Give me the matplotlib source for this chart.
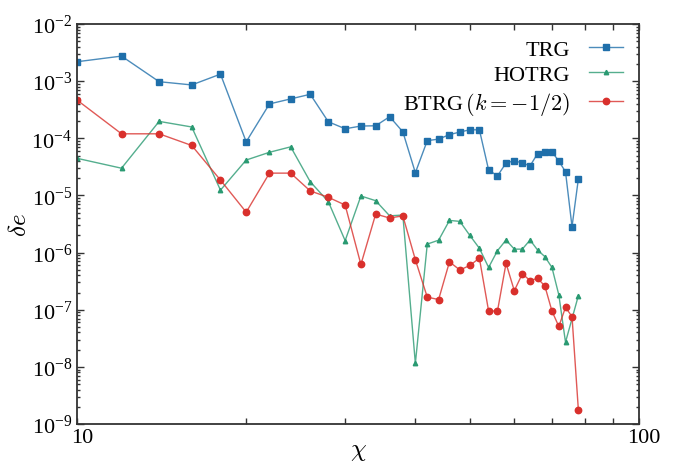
import matplotlib
matplotlib.use("Agg")
import matplotlib.pyplot as plt
import numpy as np
from matplotlib.ticker import LogLocator, NullFormatter, FuncFormatter, FixedLocator
from matplotlib.transforms import ScaledTranslation

plt.rcParams["font.family"] = ["Liberation Serif", "DejaVu Serif"]
plt.rcParams["mathtext.fontset"] = "cm"

# bond dimension chi
chi = [10, 12, 14, 16, 18, 20, 22, 24, 26, 28, 30, 32, 34, 36, 38, 40, 42, 44,
       46, 48, 50, 52, 54, 56, 58, 60, 62, 64, 66, 68, 70, 72, 74, 76, 78]
chi_hotrg = [c for c in chi if c != 76]

trg = [2.19e-3, 2.75e-3, 9.8e-4, 8.6e-4, 1.33e-3, 8.7e-5, 4.0e-4, 4.9e-4,
       5.9e-4, 1.95e-4, 1.47e-4, 1.64e-4, 1.66e-4, 2.39e-4, 1.30e-4, 2.5e-5,
       9.1e-5, 9.7e-5, 1.16e-4, 1.29e-4, 1.41e-4, 1.41e-4, 2.8e-5, 2.2e-5,
       3.7e-5, 4.05e-5, 3.7e-5, 3.3e-5, 5.4e-5, 5.8e-5, 5.8e-5, 4.0e-5,
       2.6e-5, 2.84e-6, 1.94e-5]
hotrg = [4.47e-5, 3.0e-5, 1.98e-4, 1.58e-4, 1.24e-5, 4.17e-5, 5.7e-5, 7.1e-5,
         1.74e-5, 7.8e-6, 1.62e-6, 9.8e-6, 8.1e-6, 4.4e-6, 4.55e-6, 1.15e-8,
         1.41e-6, 1.65e-6, 3.66e-6, 3.52e-6, 2.0e-6, 1.19e-6, 5.5e-7, 1.08e-6,
         1.66e-6, 1.15e-6, 1.15e-6, 1.66e-6, 1.11e-6, 8.5e-7, 5.5e-7, 1.82e-7,
         2.7e-8, 1.76e-7]
btrg = [4.68e-4, 1.2e-4, 1.2e-4, 7.5e-5, 1.86e-5, 5.1e-6, 2.46e-5, 2.46e-5,
        1.2e-5, 9.3e-6, 6.8e-6, 6.2e-7, 4.73e-6, 4.03e-6, 4.4e-6, 7.5e-7,
        1.66e-7, 1.51e-7, 6.9e-7, 4.96e-7, 5.96e-7, 8.0e-7, 9.5e-8, 9.5e-8,
        6.5e-7, 2.15e-7, 4.26e-7, 3.24e-7, 3.55e-7, 2.6e-7, 9.5e-8, 5.1e-8,
        1.1e-7, 7.6e-8, 1.78e-9]

x_ticks = [10, 100]

blue = "#1f6faa"
green = "#2a9a72"
red = "#d9302c"

fig = plt.figure(figsize=(6.84, 4.64), dpi=100)
ax = fig.add_axes([0.1126, 0.084, 0.8216, 0.862])

ax.plot(chi, trg, color=blue, lw=1.0, marker="s", ms=4.6,
        mfc=blue, mec=blue, label="TRG")
ax.plot(chi_hotrg, hotrg, color=green, lw=1.0, marker="^", ms=3.2,
        mfc=green, mec=green, label="HOTRG")
ax.plot(chi, btrg, color=red, lw=1.0, marker="o", ms=4.6,
        mfc=red, mec=red, label=r"BTRG$\,(k=-1/2)$")
for line in ax.get_lines():
    line.set_color(matplotlib.colors.to_rgba(line.get_color(), 0.8))

ax.set_xscale("log")
ax.set_yscale("log")
ax.set_xlim(10, 100)
ax.set_ylim(1e-9, 1e-2)
ax.xaxis.set_major_locator(FixedLocator(x_ticks))
ax.xaxis.set_major_formatter(FuncFormatter(lambda v, _: f"{v:g}"))
ax.xaxis.set_minor_formatter(NullFormatter())
ax.yaxis.set_major_locator(LogLocator(base=10, numticks=20))
ax.yaxis.set_minor_locator(LogLocator(base=10, subs=np.arange(2, 10), numticks=20))
ax.yaxis.set_minor_formatter(NullFormatter())

ax.tick_params(which="both", direction="in", top=True, right=True,
               labelsize=16, color="#333333", width=1.0)
ax.tick_params(axis="y", which="major", length=5)
ax.tick_params(axis="y", which="minor", length=2.5)
ax.tick_params(axis="x", which="both", length=4.5)
ax.tick_params(axis="x", which="major", pad=3)
for s in ax.spines.values():
    s.set_color("#333333")
    s.set_linewidth(1.3)

# x tick labels sit a little right of their ticks in the original
shift = ScaledTranslation(5 / 100, 0, fig.dpi_scale_trans)
for lab in ax.get_xticklabels():
    lab.set_transform(lab.get_transform() + shift)

ax.set_xlabel(r"$\chi$", fontsize=18, labelpad=-5)
ax.set_ylabel(r"$\delta e$", fontsize=18, labelpad=0)

ax.legend(loc="upper right", frameon=False, markerfirst=False, fontsize=16,
          handlelength=1.55, handletextpad=0.85, labelspacing=0.2,
          borderaxespad=0.3)

fig.savefig("out.png", dpi=100)
